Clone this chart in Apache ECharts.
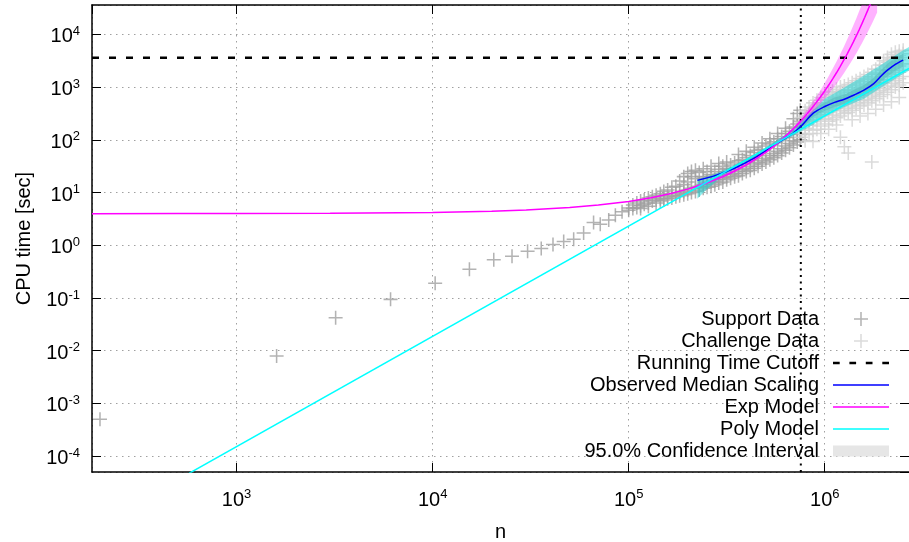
<!DOCTYPE html>
<html>
<head>
<meta charset="utf-8">
<script src="https://cdn.jsdelivr.net/npm/echarts@6/dist/echarts.min.js"></script>
<style>
html,body{margin:0;padding:0;background:#fff;}
#chart{width:909px;height:542px;}
</style>
</head>
<body>
<div id="chart"></div>
<script>
// ---- axis ranges ----
const xMin = 183, xMax = 2690000;
const yMin = 5.0e-5, yMax = 3.6e4;
const cutoffTime = 3600;
const cutoffN = 755000;

// ---- support data (sizes and CPU times) ----
const supportN = [201, 1600, 3200, 6100, 10300, 15400, 20500, 25400, 30500, 35800, 41100, 46600, 52400, 58900, 66200, 71600, 79100, 85500, 92500, 100000,
  105000, 110000, 115000, 120000, 126000, 132000, 138000, 145000, 151000, 158000, 166000, 174000, 182000, 191000, 200000, 209000, 219000, 229000, 240000, 251000,
  263000, 275000, 288000, 302000, 316000, 331000, 347000, 363000, 380000, 398000, 417000, 437000, 457000, 479000, 501000, 525000, 550000, 575000, 603000, 631000,
  661000, 692000, 724000, 750000];
const supportT = [
  [5.0e-4], [0.0079], [0.042], [0.094], [0.19], [0.35], [0.53], [0.62], [0.77], [0.87], [1.03], [1.18], [1.30], [1.70], [2.7], [2.5], [3.0], [3.7], [4.3], [4.6, 5.1],
  [5.0, 5.8], [5.2, 6.3], [5.6, 6.9, 5.0], [6.0, 7.2], [6.3, 7.9, 5.5], [6.9, 8.3], [7.2, 8.9, 6.3], [7.6, 9.5, 6.9], [7.9, 10.5, 7.2], [8.5, 11.2, 7.6],
  [8.9, 12.6, 7.9], [9.5, 13.2, 8.3], [10, 16.6, 8.7], [10.5, 20, 9.1, 14.1], [11.2, 22.9, 9.5, 15.8], [12.0, 20, 10, 25.1], [12.6, 18.2, 10.5, 26.3], [13.2, 24, 11.2], [14.1, 20, 12, 28.2], [15.1, 25.1, 12.6],
  [15.8, 21.9, 13.2, 31.6], [16.6, 25.1, 14.1], [17.8, 27.5, 15.1, 35.5], [19.1, 31.6, 15.8], [20, 28.8, 17.4, 38], [21.9, 33.1, 18.6], [22.9, 36.3, 20], [25.1, 39.8, 20.9, 52.5], [26.9, 41.7, 22.9], [28.8, 45.7, 25.1, 60.3],
  [31.6, 50.1, 26.3], [34.7, 57.5, 28.8, 72.4], [37.2, 63.1, 31.6], [40.7, 66.1, 34.7, 87.1], [44.7, 75.9, 38], [50.1, 83.2, 41.7, 105], [55, 91.2, 45.7], [60.3, 105, 50.1, 132], [67.6, 115, 56.2], [75.9, 132, 63.1, 166],
  [85.1, 145, 70.8], [95.5, 174, 79.4, 251], [110, 200, 91.2, 316], [126, 224, 100, 363]
];

// ---- challenge data ----
const challengeN = [759000, 794000, 832000, 871000, 912000, 955000, 1000000, 1047000, 1096000, 1148000, 1202000, 1259000, 1318000, 1380000,
  1445000, 1514000, 1585000, 1660000, 1738000, 1820000, 1905000, 1995000, 2089000, 2188000, 2291000, 2399000, 2512000];
const challengeT = [
  [263, 191, 151, 112, 214, 132],
  [355, 240, 166, 126, 95.5, 282, 200],
  [417, 282, 191, 132, 331, 229],
  [501, 331, 219, 151, 93.3, 398, 263],
  [562, 380, 240, 158, 457, 295],
  [631, 417, 275, 182, 132, 501, 339],
  [724, 457, 302, 200, 575, 372, 251],
  [794, 501, 331, 224, 158, 631, 407],
  [832, 550, 363, 240, 676, 447, 295],
  [912, 603, 398, 263, 191, 741, 490],
  [1000, 631, 437, 282, 112, 794, 525, 355],
  [1047, 692, 479, 316, 74, 851, 575, 389],
  [1122, 724, 525, 331, 56, 891, 617, 417],
  [1202, 794, 575, 363, 240, 977, 676, 457],
  [1318, 871, 631, 398, 1072, 741, 501],
  [1445, 933, 692, 437, 282, 1148, 813, 550],
  [1585, 1000, 759, 457, 1259, 871, 589],
  [1738, 1122, 832, 501, 316, 1380, 955, 646],
  [1905, 1259, 912, 550, 38, 1549, 1072, 708],
  [2188, 1445, 1000, 603, 380, 1778, 1202, 776],
  [2630, 1738, 1096, 661, 2138, 1380, 851],
  [3162, 2089, 1202, 724, 457, 2570, 1585, 933],
  [3631, 2399, 1380, 794, 2951, 1820, 1047],
  [4169, 2754, 1585, 891, 525, 3388, 2089, 1175],
  [4571, 3020, 1738, 1000, 3715, 2291, 1318],
  [4786, 3311, 1905, 1096, 631, 3981, 2512, 1445],
  [5012, 3631, 2089, 1202, 4266, 2754, 1585]
];

// ---- observed median scaling and its confidence band ----
const medianN = [224000, 275400, 346700, 436500, 524800, 602600, 676100, 758600, 871000, 1000000, 1122000, 1259000, 1413000, 1585000, 1778000, 1950000, 2089000, 2291000, 2512000];
const medianT = [17.0, 20.9, 28.8, 44.7, 69.2, 97.7, 126, 182, 316, 427, 513, 589, 708, 871, 1161, 1660, 2089, 2692, 3236];
const medianLo = [14.8, 18.4, 25.7, 39.8, 61.7, 87.1, 111, 158, 269, 355, 417, 479, 562, 692, 902, 1274, 1585, 2042, 2455];
const medianHi = [19.5, 23.7, 32.4, 50.1, 77.6, 110, 143, 209, 372, 513, 631, 724, 891, 1096, 1496, 2163, 2754, 3548, 4266];

// ---- exp model and its band ----
const expN = [183, 500, 1000, 3000, 10000, 20000, 30000, 50000, 70000, 100000, 130000, 160000, 200000, 250000, 300000, 350000, 400000, 450000, 500000,
  550000, 600000, 650000, 700000, 750000, 800000, 850000, 900000, 950000, 1000000, 1050000, 1100000, 1150000, 1200000, 1250000, 1300000,
  1350000, 1400000, 1450000, 1500000, 1550000, 1600000, 1650000, 1700000, 1750000];
const expT = [3.97, 3.98, 3.99, 4.03, 4.19, 4.42, 4.67, 5.20, 5.78, 6.78, 7.97, 9.37, 11.6, 15.2, 19.8, 25.9, 33.9, 44.4, 58.0,
  75.8, 99.1, 130, 169, 221, 290, 379, 495, 647, 844, 1104, 1443, 1887, 2467, 3225, 4216,
  5512, 7206, 9420, 12315, 16100, 21049, 27518, 35976, 47032];
const expBandN = [220000, 300000, 400000, 500000, 620000, 700000, 760000, 850000, 950000, 1050000, 1150000, 1250000, 1350000, 1450000, 1550000, 1650000, 1750000, 1850000];
const expBandLo = [12.0, 18.5, 31.6, 54.1, 102, 157, 205, 306, 484, 745, 1161, 1807, 2818, 4395, 6855, 10690, 16670, 25940];
const expBandHi = [13.8, 21.2, 36.3, 62.1, 117, 182, 265, 468, 865, 1644, 3083, 5768, 10810, 20280, 38020, 71290, 133700, 250000];

// ---- poly model and its band ----
const polyN = [400, 2690000];
const polyT = [2.23e-5, 2270];
const polyBandN = [224000, 251000, 282000, 316000, 398000, 501000, 631000, 759000, 871000, 1000000, 1259000, 1585000, 1995000, 2512000, 2692000];
const polyBandLo = [7.59, 11.7, 16.6, 22.9, 37.2, 60.3, 100, 145, 191, 269, 417, 603, 1047, 1778, 2042];
const polyBandHi = [17.8, 20.0, 23.4, 28.2, 43.7, 72.4, 126, 229, 355, 603, 977, 1660, 2818, 5012, 5754];

// ---------------------------------------------------------------
const F = "'Liberation Sans', Arial, Helvetica, sans-serif";
const CROSS = 'path://M0,4.45H10V5.55H0Z M4.45,0H5.55V10H4.45Z';
const SPECKS = 'M0,0h0.01v0.01h-0.01Z M0,14h0.01v-0.01h-0.01Z ';
const LINE_ICON = 'path://' + SPECKS + 'M0,6.25H56V7.75H0Z';
const DASH_ICON = 'path://' + SPECKS + 'M0,5.75H6.7V8.25H0Z M16.4,5.75H23.1V8.25H16.4Z M32.8,5.75H39.5V8.25H32.8Z M49.3,5.75H56V8.25H49.3Z';
const BOX_ICON = 'path://' + SPECKS + 'M0,1.5H56V12.5H0Z';

function pairs(N, T) {
  const out = [];
  N.forEach((n, i) => T[i].forEach(t => out.push([n, t])));
  return out;
}
function zip(N, T) { return N.map((n, i) => [n, T[i]]); }

function powLabel(v) {
  const e = Math.log10(v);
  const r = Math.round(e);
  if (Math.abs(e - r) > 1e-6) return '';
  return '{b|10}{s|' + r + '}';
}
const labelRich = {
  b: { fontSize: 20, fontFamily: F, color: '#000', lineHeight: 24 },
  s: { fontSize: 13, fontFamily: F, color: '#000', lineHeight: 14, verticalAlign: 'top' }
};

function band(name, N, lo, hi, fill, legendColor) {
  return {
    type: 'custom', name: name, coordinateSystem: 'cartesian2d', clip: true, silent: true, z: 3,
    itemStyle: { color: legendColor || fill },
    data: [[N[0], lo[0]]],
    renderItem: function (params, api) {
      const pts = [];
      for (let i = 0; i < N.length; i++) pts.push(api.coord([N[i], hi[i]]));
      for (let i = N.length - 1; i >= 0; i--) pts.push(api.coord([N[i], lo[i]]));
      return { type: 'polygon', shape: { points: pts }, style: { fill: fill } };
    }
  };
}

const baseAxis = {
  type: 'log', logBase: 10,
  axisLine: { show: true, lineStyle: { color: '#000', width: 1.5 } },
  axisTick: { show: true, inside: true, length: 9, lineStyle: { color: '#000', width: 1 } },
  minorTick: { show: false },
  splitLine: { show: false },
  axisLabel: { show: false }
};
const gridLine = { show: true, lineStyle: { color: '#a0a0a0', width: 1, type: [1.5, 4.5] } };

const chart = echarts.init(document.getElementById('chart'), null, { renderer: 'canvas' });
chart.setOption({
  animation: false,
  backgroundColor: '#fff',
  textStyle: { fontFamily: F },
  grid: { left: 92, right: 0, top: 5, bottom: 70, containLabel: false, outerBoundsMode: 'none' },
  xAxis: [
    Object.assign({}, baseAxis, {
      min: xMin, max: xMax, position: 'bottom',
      splitLine: gridLine,
      axisLabel: { show: true, margin: 16, formatter: powLabel, rich: labelRich, showMinLabel: false, showMaxLabel: false },
      name: 'n', nameLocation: 'middle', nameGap: 50,
      nameTextStyle: { fontSize: 20, fontFamily: F, color: '#000' }
    }),
    Object.assign({}, baseAxis, { min: xMin, max: xMax, position: 'top' })
  ],
  yAxis: [
    Object.assign({}, baseAxis, {
      min: yMin, max: yMax, position: 'left',
      splitLine: gridLine,
      axisLabel: { show: true, margin: 12, padding: [5, 0, 0, 0], formatter: powLabel, rich: labelRich, showMinLabel: false, showMaxLabel: false },
      name: 'CPU time [sec]', nameLocation: 'middle', nameGap: 58, nameRotate: 90,
      nameTextStyle: { fontSize: 20, fontFamily: F, color: '#000' }
    }),
    Object.assign({}, baseAxis, { min: yMin, max: yMax, position: 'right', axisLine: { show: false } })
  ],
  legend: {
    orient: 'vertical', align: 'right', right: 20, top: 308, padding: 0,
    itemWidth: 56, itemHeight: 14, itemGap: 0, selectedMode: false,
    textStyle: { fontSize: 20, lineHeight: 22, color: '#000', fontFamily: F, padding: [0, 9, 0, 0] },
    data: [
      'Support Data', 'Challenge Data',
      { name: 'Running Time Cutoff', icon: DASH_ICON, itemStyle: { color: '#000' } },
      { name: 'Observed Median Scaling', icon: LINE_ICON, itemStyle: { color: '#0000ff' } },
      { name: 'Exp Model', icon: LINE_ICON, itemStyle: { color: '#ff00ff' } },
      { name: 'Poly Model', icon: LINE_ICON, itemStyle: { color: '#00ffff' } },
      { name: '95.0% Confidence Interval', icon: BOX_ICON, itemStyle: { color: '#e6e6e6' } }
    ]
  },
  series: [
    { type: 'scatter', name: 'Support Data', data: pairs(supportN, supportT), symbol: CROSS, symbolSize: 14, symbolKeepAspect: true,
      itemStyle: { color: '#a0a0a0' }, z: 2, silent: true },
    { type: 'scatter', name: 'Challenge Data', data: pairs(challengeN, challengeT), symbol: CROSS, symbolSize: 14, symbolKeepAspect: true,
      itemStyle: { color: '#d2d2d2' }, z: 2, silent: true },
    band('95.0% Confidence Interval', medianN, medianLo, medianHi, 'rgba(150,150,150,0.45)', '#e6e6e6'),
    band('polyBand', polyBandN, polyBandLo, polyBandHi, 'rgba(0,215,215,0.45)'),
    band('expBand', expBandN, expBandLo, expBandHi, 'rgba(255,0,255,0.3)'),
    { type: 'line', name: 'Running Time Cutoff', data: [[xMin, cutoffTime], [xMax, cutoffTime]], showSymbol: false, symbol: 'none',
      lineStyle: { color: '#000', width: 2.5, type: [7, 10] }, itemStyle: { color: '#000' }, z: 4, silent: true },
    { type: 'line', name: 'cutoffN', data: [[cutoffN, yMin], [cutoffN, yMax]], showSymbol: false, symbol: 'none',
      lineStyle: { color: '#000', width: 2, type: [2, 4.5] }, z: 4, silent: true },
    { type: 'line', name: 'Observed Median Scaling', data: zip(medianN, medianT), showSymbol: false, symbol: 'none', smooth: 0.3,
      lineStyle: { color: '#0000ff', width: 1.5 }, itemStyle: { color: '#0000ff' }, z: 5, silent: true },
    { type: 'line', name: 'Exp Model', data: zip(expN, expT), showSymbol: false, symbol: 'none',
      lineStyle: { color: '#ff00ff', width: 1.5 }, itemStyle: { color: '#ff00ff' }, z: 5, silent: true },
    { type: 'line', name: 'Poly Model', data: zip(polyN, polyT), showSymbol: false, symbol: 'none',
      lineStyle: { color: '#00ffff', width: 1.5 }, itemStyle: { color: '#00ffff' }, z: 5, silent: true }
  ]
});
</script>
</body>
</html>
